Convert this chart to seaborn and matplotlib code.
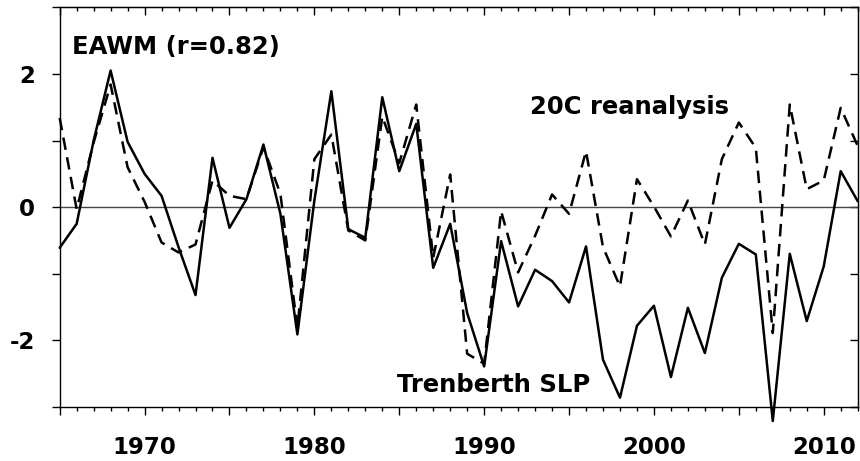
import matplotlib
matplotlib.use("Agg")
import matplotlib.pyplot as plt
from matplotlib.ticker import MultipleLocator, FuncFormatter
import pandas as pd
import seaborn as sns

years = list(range(1965, 2013))
trenberth_slp = [
    -0.61, -0.25, 1.00, 2.05, 0.98, 0.50, 0.17, -0.60, -1.32, 0.74,
    -0.31, 0.12, 0.94, -0.10, -1.91, 0.10, 1.74, -0.33, -0.46, 1.65,
    0.54, 1.25, -0.91, -0.25, -1.59, -2.39, -0.51, -1.49, -0.94, -1.11,
    -1.43, -0.59, -2.29, -2.86, -1.78, -1.48, -2.55, -1.51, -2.19, -1.06,
    -0.55, -0.71, -3.21, -0.70, -1.71, -0.89, 0.54, 0.09,
]
reanalysis_20c = [
    1.34, -0.03, 0.97, 1.84, 0.60, 0.08, -0.53, -0.68, -0.56, 0.40,
    0.17, 0.12, 0.90, 0.20, -1.81, 0.72, 1.09, -0.35, -0.50, 1.36,
    0.66, 1.54, -0.76, 0.49, -2.20, -2.35, -0.06, -0.98, -0.43, 0.19,
    -0.10, 0.84, -0.60, -1.19, 0.42, 0.01, -0.44, 0.10, -0.56, 0.72,
    1.27, 0.89, -1.89, 1.54, 0.27, 0.40, 1.49, 0.92,
]

df = pd.DataFrame({"year": years, "slp": trenberth_slp, "c20": reanalysis_20c})

sns.set_style("white", {"text.color": "black", "xtick.color": "black",
                        "ytick.color": "black", "axes.edgecolor": "black"})
plt.rcParams["font.family"] = ["DejaVu Sans"]
plt.rcParams["font.weight"] = "bold"

fig = plt.figure(figsize=(8.6, 4.61), dpi=100)
ax = fig.add_axes([0.0694, 0.1171, 0.9279, 0.8671])

ax.axhline(0, color="#444444", lw=1.0, zorder=1)
sns.lineplot(data=df, x="year", y="c20", ax=ax, color="black", lw=1.8,
             dashes=False, clip_on=False, zorder=2)
ax.lines[-1].set_dashes((5, 3))
sns.lineplot(data=df, x="year", y="slp", ax=ax, color="black", lw=1.8,
             clip_on=False, zorder=3)

ax.set_xlim(1965, 2012)
ax.set_ylim(-3, 3)
ax.set_xlabel("")
ax.set_ylabel("")

for s in ax.spines.values():
    s.set_color("black")
    s.set_linewidth(1.0)

ax.xaxis.set_major_locator(MultipleLocator(5))
ax.xaxis.set_minor_locator(MultipleLocator(1))
ax.xaxis.set_major_formatter(FuncFormatter(lambda v, p: f"{int(v)}" if int(v) % 10 == 0 else ""))
ax.yaxis.set_major_locator(MultipleLocator(1))
ax.yaxis.set_major_formatter(FuncFormatter(lambda v, p: f"{int(round(v))}" if int(round(v)) % 2 == 0 and abs(v) < 2.5 else ""))
ax.tick_params(which="both", direction="out", width=1.0, color="black",
               labelcolor="black", labelsize=16.5, bottom=True, left=True)
ax.tick_params(which="major", length=6)
ax.tick_params(which="minor", length=3)
ax.tick_params(axis="x", pad=15)
ax.tick_params(axis="y", pad=12)
for lab in ax.get_xticklabels() + ax.get_yticklabels():
    lab.set_fontweight("bold")

top = ax.secondary_xaxis("top")
top.xaxis.set_major_locator(MultipleLocator(5))
top.xaxis.set_minor_locator(MultipleLocator(1))
top.tick_params(which="both", direction="in", labeltop=False, width=1.0)
top.tick_params(which="major", length=6)
top.tick_params(which="minor", length=3)
right = ax.secondary_yaxis("right")
right.yaxis.set_major_locator(MultipleLocator(1))
right.tick_params(direction="in", length=6, width=1.0, labelright=False)

ax.text(1965.72, 2.41, "EAWM (r=0.82)", fontsize=17.5, fontweight="bold",
        color="black", va="center")
ax.text(1992.7, 1.5, "20C reanalysis", fontsize=17.5, fontweight="bold",
        color="black", va="center")
ax.text(1984.87, -2.67, "Trenberth SLP", fontsize=17.5, fontweight="bold",
        color="black", va="center")

fig.savefig("out.png", dpi=100)
